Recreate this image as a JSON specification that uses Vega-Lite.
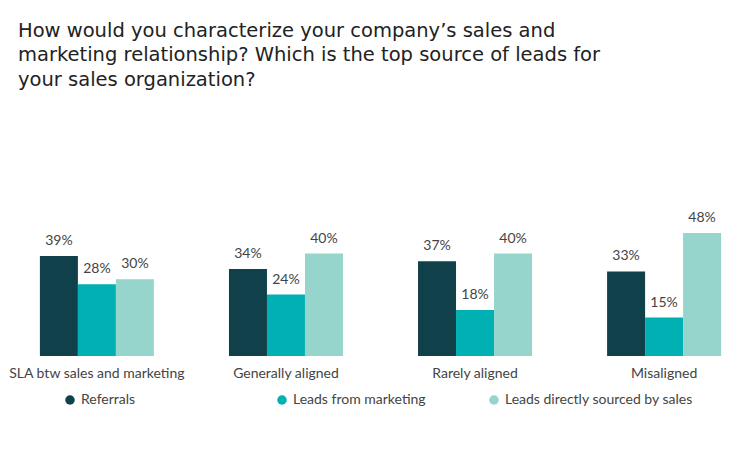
{
  "$schema": "https://vega.github.io/schema/vega-lite/v6.json",
  "autosize": "none",
  "width": 719,
  "height": 123,
  "padding": {"left": 21, "top": 233, "right": 5, "bottom": 94},
  "background": "#ffffff",
  "config": {"view": {"stroke": null}},
  "title": {
    "text": ["How would you characterize your company’s sales and", "marketing relationship? Which is the top source of leads for", "your sales organization?"],
    "anchor": "start",
    "frame": "group",
    "font": "DejaVu Sans",
    "fontSize": 19.5,
    "fontWeight": "normal",
    "color": "#222222",
    "lineHeight": 24.5,
    "offset": 121,
    "dx": -3
  },
  "data": {
    "values": [
      {"group": "SLA btw sales and marketing", "series": "Referrals", "value": 0.39},
      {"group": "SLA btw sales and marketing", "series": "Leads from marketing", "value": 0.28},
      {"group": "SLA btw sales and marketing", "series": "Leads directly sourced by sales", "value": 0.30},
      {"group": "Generally aligned", "series": "Referrals", "value": 0.34},
      {"group": "Generally aligned", "series": "Leads from marketing", "value": 0.24},
      {"group": "Generally aligned", "series": "Leads directly sourced by sales", "value": 0.40},
      {"group": "Rarely aligned", "series": "Referrals", "value": 0.37},
      {"group": "Rarely aligned", "series": "Leads from marketing", "value": 0.18},
      {"group": "Rarely aligned", "series": "Leads directly sourced by sales", "value": 0.40},
      {"group": "Misaligned", "series": "Referrals", "value": 0.33},
      {"group": "Misaligned", "series": "Leads from marketing", "value": 0.15},
      {"group": "Misaligned", "series": "Leads directly sourced by sales", "value": 0.48}
    ]
  },
  "encoding": {
    "x": {
      "field": "group",
      "type": "nominal",
      "sort": ["SLA btw sales and marketing", "Generally aligned", "Rarely aligned", "Misaligned"],
      "scale": {"paddingInner": 0.397, "paddingOuter": 0.1},
      "axis": {
        "title": null,
        "labelAngle": 0,
        "domain": false,
        "ticks": false,
        "labelPadding": 10,
        "labelFont": "Lato",
        "labelFontSize": 14,
        "labelColor": "#444444"
      }
    },
    "xOffset": {
      "field": "series",
      "type": "nominal",
      "sort": ["Referrals", "Leads from marketing", "Leads directly sourced by sales"],
      "scale": {"paddingInner": 0, "paddingOuter": 0}
    },
    "y": {
      "field": "value",
      "type": "quantitative",
      "scale": {"domain": [0, 0.48], "nice": false},
      "axis": null
    }
  },
  "layer": [
    {
      "mark": {"type": "bar", "clip": false},
      "encoding": {
        "color": {
          "field": "series",
          "type": "nominal",
          "sort": ["Referrals", "Leads from marketing", "Leads directly sourced by sales"],
          "scale": {
            "domain": ["Referrals", "Leads from marketing", "Leads directly sourced by sales"],
            "range": ["#10404a", "#00b0b3", "#96d5cc"]
          },
          "legend": {
            "title": null,
            "orient": "none",
            "legendX": 42,
            "legendY": 160,
            "direction": "horizontal",
            "columns": 3,
            "gridAlign": "all",
            "columnPadding": 6,
            "padding": 0,
            "symbolType": "circle",
            "symbolSize": 90,
            "symbolStrokeWidth": 0,
            "labelOffset": 4,
            "labelLimit": 300,
            "labelFont": "Lato",
            "labelFontSize": 14,
            "labelColor": "#444444"
          }
        }
      }
    },
    {
      "mark": {"type": "text", "baseline": "bottom", "dy": -8, "font": "Lato", "fontSize": 14, "color": "#444444"},
      "encoding": {
        "text": {"field": "value", "type": "quantitative", "format": ".0%"}
      }
    }
  ]
}
